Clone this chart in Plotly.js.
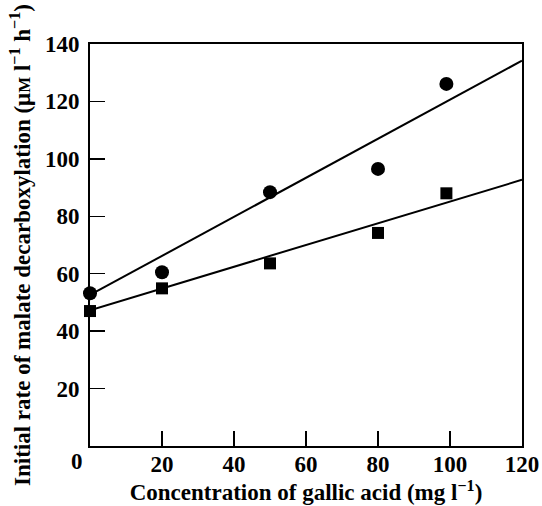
<!DOCTYPE html>
<html>
<head>
<meta charset="utf-8">
<script src="https://cdn.plot.ly/plotly-3.0.1.min.js"></script>
<style>html,body{margin:0;padding:0;background:#fff;}#chart{width:542px;height:506px;}</style>
</head>
<body>
<div id="chart"></div>
<script>
// Data
const concentration = [0, 20, 50, 80, 99];
const rateCircles = [53.2, 60.5, 88.4, 96.5, 126.1];
const rateSquares = [47.0, 54.9, 63.6, 74.2, 88.0];
// Fitted regression lines (endpoints)
const fitX = [0, 120];
const fitCircles = [52.6, 134.2];
const fitSquares = [47.3, 92.7];
const xTickVals = [20, 40, 60, 80, 100, 120];
const yTickVals = [20, 40, 60, 80, 100, 120, 140];

const FONT = 'Liberation Serif, Times New Roman, serif';

const traces = [
  {x: fitX, y: fitCircles, mode: 'lines', line: {color: '#000', width: 2}, hoverinfo: 'skip', showlegend: false},
  {x: fitX, y: fitSquares, mode: 'lines', line: {color: '#000', width: 2}, hoverinfo: 'skip', showlegend: false},
  {x: concentration, y: rateCircles, mode: 'markers', marker: {symbol: 'circle', size: 14, color: '#000'}, cliponaxis: false, showlegend: false},
  {x: concentration, y: rateSquares, mode: 'markers', marker: {symbol: 'square', size: 12, color: '#000'}, cliponaxis: false, showlegend: false}
];

const layout = {
  width: 542, height: 506,
  margin: {l: 90, r: 20, t: 44, b: 60},
  paper_bgcolor: '#fff', plot_bgcolor: '#fff',
  font: {family: FONT, size: 23, color: '#000', weight: 'bold'},
  showlegend: false,
  xaxis: {
    range: [0, 120], tickvals: xTickVals, ticktext: xTickVals.map(String),
    ticks: 'inside', ticklen: 15, tickwidth: 1.5, tickcolor: '#000',
    showline: true, linecolor: '#000', linewidth: 2, mirror: true,
    showgrid: false, zeroline: false, ticklabelstandoff: -4,
    tickfont: {family: FONT, size: 23, weight: 'bold'},
    title: {text: 'Concentration of gallic acid (mg l<sup>−1</sup>)', font: {family: FONT, size: 23, weight: 'bold'}, standoff: 8}
  },
  yaxis: {
    range: [0, 140], tickvals: yTickVals, ticktext: yTickVals.map(String),
    ticks: 'inside', ticklen: 15, tickwidth: 1.5, tickcolor: '#000',
    showline: true, linecolor: '#000', linewidth: 2, mirror: true,
    showgrid: false, zeroline: false, ticklabelstandoff: 4,
    tickfont: {family: FONT, size: 23, weight: 'bold'},
    title: {text: 'Initial rate of malate decarboxylation (μ<span style="font-size:17px">M</span> l<sup>−1</sup> h<sup>−1</sup>)', font: {family: FONT, size: 23, weight: 'bold'}, standoff: 8}
  },
  annotations: [
    {x: -0.03, y: 0, xref: 'paper', yref: 'paper', text: '0', showarrow: false, yanchor: 'top', xanchor: 'center', yshift: -1, font: {family: FONT, size: 23, weight: 'bold'}}
  ]
};

Plotly.newPlot('chart', traces, layout, {displayModeBar: false, staticPlot: true});
</script>
</body>
</html>
